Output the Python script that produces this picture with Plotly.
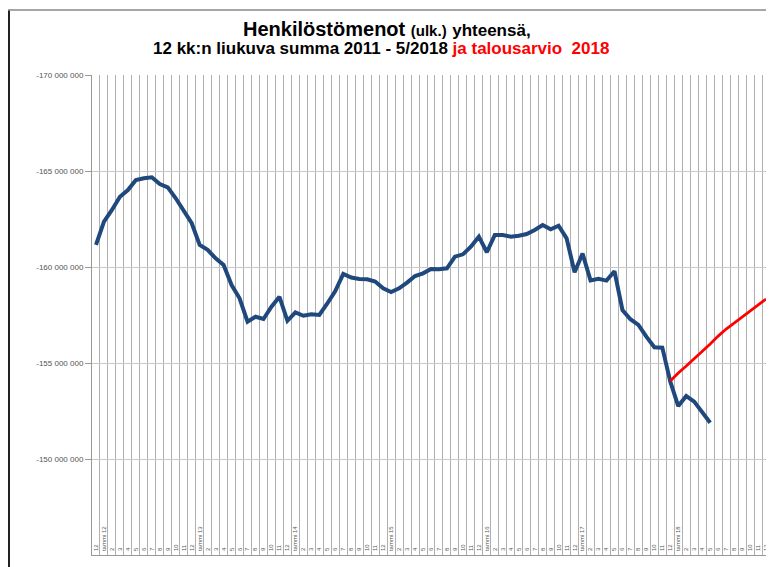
import plotly.graph_objects as go

# Categories: Dec 2011 .. Dec 2018
months = [(2011, 12)] + [(y, m) for y in range(2012, 2019) for m in range(1, 13)]
categories = [f"{y}-{m:02d}" for y, m in months]
tick_labels = [f"tammi {str(y)[2:]}" if m == 1 else str(m) for y, m in months]

# 12-month rolling sum (millions EUR), 12/2011 .. 5/2018
actual_millions = [
    -161.15, -162.36, -162.97, -163.66, -164.01, -164.53, -164.62, -164.67, -164.32, -164.15,
    -163.58, -162.97, -162.28, -161.15, -160.89, -160.45, -160.10, -159.06, -158.37, -157.15,
    -157.41, -157.29, -157.93, -158.45, -157.20, -157.64, -157.46, -157.54, -157.50, -158.10,
    -158.75, -159.64, -159.45, -159.38, -159.36, -159.24, -158.89, -158.70, -158.89, -159.19,
    -159.53, -159.67, -159.90, -159.88, -159.93, -160.54, -160.66, -161.06, -161.58, -160.77,
    -161.67, -161.67, -161.58, -161.63, -161.72, -161.93, -162.19, -161.96, -162.15, -161.49,
    -159.73, -160.70, -159.30, -159.38, -159.29, -159.78, -157.76, -157.28, -156.98, -156.37,
    -155.82, -155.80, -154.03, -152.76, -153.28, -152.99, -152.46, -151.89,
]
# Budget 2018 (millions EUR), 12/2017 .. 12/2018
budget_millions = [
    -154.06, -154.48, -154.84, -155.21, -155.57, -155.99, -156.40,
    -156.77, -157.08, -157.40, -157.71, -158.02, -158.33,
]

y_ticks = [-170000000, -165000000, -160000000, -155000000, -150000000, -145000000]
y_ticktext = [f"{v:,}".replace(",", " ") for v in y_ticks]

actual = [v * 1e6 for v in actual_millions]
budget = [v * 1e6 for v in budget_millions]
budget_x = categories[72:72 + len(budget)]

fig = go.Figure()
fig.add_trace(go.Scatter(
    x=categories[:len(actual)], y=actual, mode="lines",
    line=dict(color="#1F497D", width=4), hoverinfo="skip", showlegend=False,
))
fig.add_trace(go.Scatter(
    x=budget_x, y=budget, mode="lines",
    line=dict(color="#FF0000", width=2.8), hoverinfo="skip", showlegend=False,
))

W, H = 766, 559          # page body has an 8px margin
L, R, T, B = 84, 4, 67, 12
PW, PH = W - L - R, H - T - B

def px_x(x):  # figure pixel -> paper
    return (x - L) / PW

def px_y(y):
    return (H - B - y) / PH

FONT = "Liberation Sans, Arial, sans-serif"

fig.update_layout(
    width=W, height=H,
    margin=dict(l=L, r=R, t=T, b=B),
    paper_bgcolor="white", plot_bgcolor="white",
    font=dict(family=FONT, color="#000"),
    xaxis=dict(
        type="category", categoryorder="array", categoryarray=categories,
        range=[-0.5, len(categories) - 0.5],
        tickmode="array", tickvals=categories, ticktext=tick_labels,
        tickson="boundaries", tickangle=-90,
        ticklabelposition="inside",
        tickfont=dict(size=6, color="#555"),
        showgrid=True, gridcolor="#b0b0b0", gridwidth=1,
        showline=True, linecolor="#999", linewidth=1,
        ticks="", zeroline=False,
    ),
    yaxis=dict(
        range=[-145000000, -170000000],
        tickmode="array", tickvals=y_ticks, ticktext=y_ticktext,
        tickfont=dict(size=8, color="#555"),
        showgrid=True, gridcolor="#c8c8c8", gridwidth=1,
        showline=True, linecolor="#999", linewidth=1,
        ticks="outside", ticklen=6, tickcolor="#999",
        zeroline=False,
    ),
)

fig.add_annotation(
    xref="paper", yref="paper", x=px_x(379), y=px_y(21),
    xanchor="center", yanchor="middle", showarrow=False,
    text=("<b>Henkilöstömenot <span style='font-size:15px'>(ulk.)</span>"
          " <span style='font-size:17px'>yhteensä,</span></b>"),
    font=dict(size=20, family=FONT, color="#000"),
)
fig.add_annotation(
    xref="paper", yref="paper", x=px_x(373), y=px_y(41),
    xanchor="center", yanchor="middle", showarrow=False,
    text=("<b>12 kk:n liukuva summa 2011 - 5/2018 "
          "<span style='color:#FF0000'>ja talousarvio&nbsp;&nbsp;2018</span></b>"),
    font=dict(size=17, family=FONT, color="#000"),
)

# outer frame of the original image
fig.add_shape(type="line", xref="paper", yref="paper",
              x0=px_x(1), x1=px_x(1), y0=px_y(2), y1=px_y(H + 5),
              line=dict(color="#222", width=2))
fig.add_shape(type="line", xref="paper", yref="paper",
              x0=px_x(0), x1=px_x(W + 5), y0=px_y(2), y1=px_y(2),
              line=dict(color="#888", width=1.5))

fig.write_html("out.html")
